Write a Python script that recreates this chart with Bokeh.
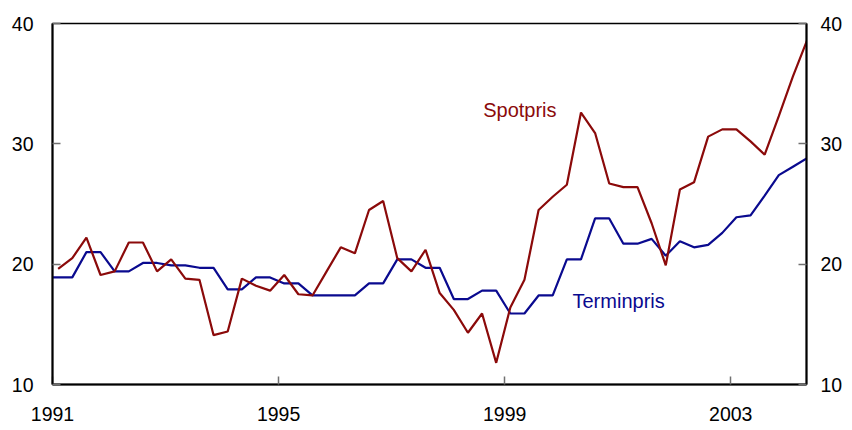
from bokeh.plotting import figure
from bokeh.models import FixedTicker, LinearAxis, Range1d, Label
from bokeh.embed import file_html
from bokeh.resources import INLINE

# Quarterly data, first quarter of 1991 onwards
start_year = 1991
spot = [19.6, 20.5, 22.2, 19.1, 19.4, 21.8, 21.8, 19.4, 20.4, 18.8,
        18.7, 14.1, 14.4, 18.8, 18.2, 17.8, 19.1, 17.5, 17.4, 19.4,
        21.4, 20.9, 24.5, 25.25, 20.5, 19.4, 21.2, 17.6, 16.2, 14.3,
        15.9, 11.8, 16.4, 18.7, 24.5, 25.6, 26.6, 32.6, 30.9, 26.7,
        26.4, 26.4, 23.4, 19.9, 26.2, 26.8, 30.6, 31.2, 31.2, 30.2,
        29.1, 32.3, 35.6, 38.6]
# Forward price series starts one quarter earlier (fourth quarter 1990)
termin = [18.9, 18.9, 18.9, 21.0, 21.0, 19.4, 19.4, 20.1, 20.1, 19.9,
          19.9, 19.7, 19.7, 17.9, 17.9, 18.9, 18.9, 18.4, 18.4, 17.4,
          17.4, 17.4, 17.4, 18.4, 18.4, 20.4, 20.4, 19.7, 19.7, 17.1,
          17.1, 17.8, 17.8, 15.9, 15.9, 17.4, 17.4, 20.4, 20.4, 23.8,
          23.8, 21.7, 21.7, 22.1, 20.7, 21.9, 21.4, 21.6, 22.6, 23.9,
          24.05, 25.7, 27.4, 28.1, 28.8]
x_ticks = [1991, 1995, 1999, 2003]
y_ticks = [10, 20, 30, 40]
spot_label = "Spotpris"
termin_label = "Terminpris"

RED = "#8B0A0A"
BLUE = "#0A0A8F"
FONT = "Liberation Sans"

spot_x = [start_year + (i + 0.4) / 4 for i in range(len(spot))]
termin_x = [start_year + (i - 1 + 0.4) / 4 for i in range(len(termin))]

p = figure(width=850, height=428,
           x_range=Range1d(1991, 2004.34), y_range=Range1d(10, 40),
           output_backend="svg", toolbar_location=None,
           min_border_left=52, min_border_right=44,
           min_border_top=23, min_border_bottom=44)

p.line(termin_x, termin, line_color=BLUE, line_width=2.2)
p.line(spot_x, spot, line_color=RED, line_width=2.2)

p.xgrid.visible = False
p.ygrid.visible = False
p.outline_line_color = "black"
p.outline_line_width = 1.5
p.outline_line_alpha = 1.0

right_axis = LinearAxis()
p.add_layout(right_axis, "right")

for ax in [p.xaxis[0], p.yaxis[0], right_axis]:
    ax.axis_line_color = "black"
    ax.axis_line_width = 2
    ax.major_tick_in = 8
    ax.major_tick_out = 0
    ax.major_tick_line_color = "#707070"
    ax.major_tick_line_width = 1.5
    ax.minor_tick_line_color = None
    ax.major_label_text_font = FONT
    ax.major_label_text_font_size = "19.5px"
    ax.major_label_text_color = "black"

p.xaxis[0].ticker = FixedTicker(ticks=x_ticks)
p.yaxis[0].ticker = FixedTicker(ticks=y_ticks)
right_axis.ticker = FixedTicker(ticks=y_ticks)
p.xaxis[0].major_label_standoff = 22
p.yaxis[0].major_label_standoff = 19
right_axis.major_label_standoff = 14

p.add_layout(Label(x=1998.62, y=32.8, text=spot_label, text_color=RED,
                   text_font=FONT, text_font_size="20px",
                   text_align="left", text_baseline="middle"))
p.add_layout(Label(x=2000.20, y=16.9, text=termin_label, text_color=BLUE,
                   text_font=FONT, text_font_size="20px",
                   text_align="left", text_baseline="middle"))

open("out.html", "w").write(file_html(p, INLINE))
